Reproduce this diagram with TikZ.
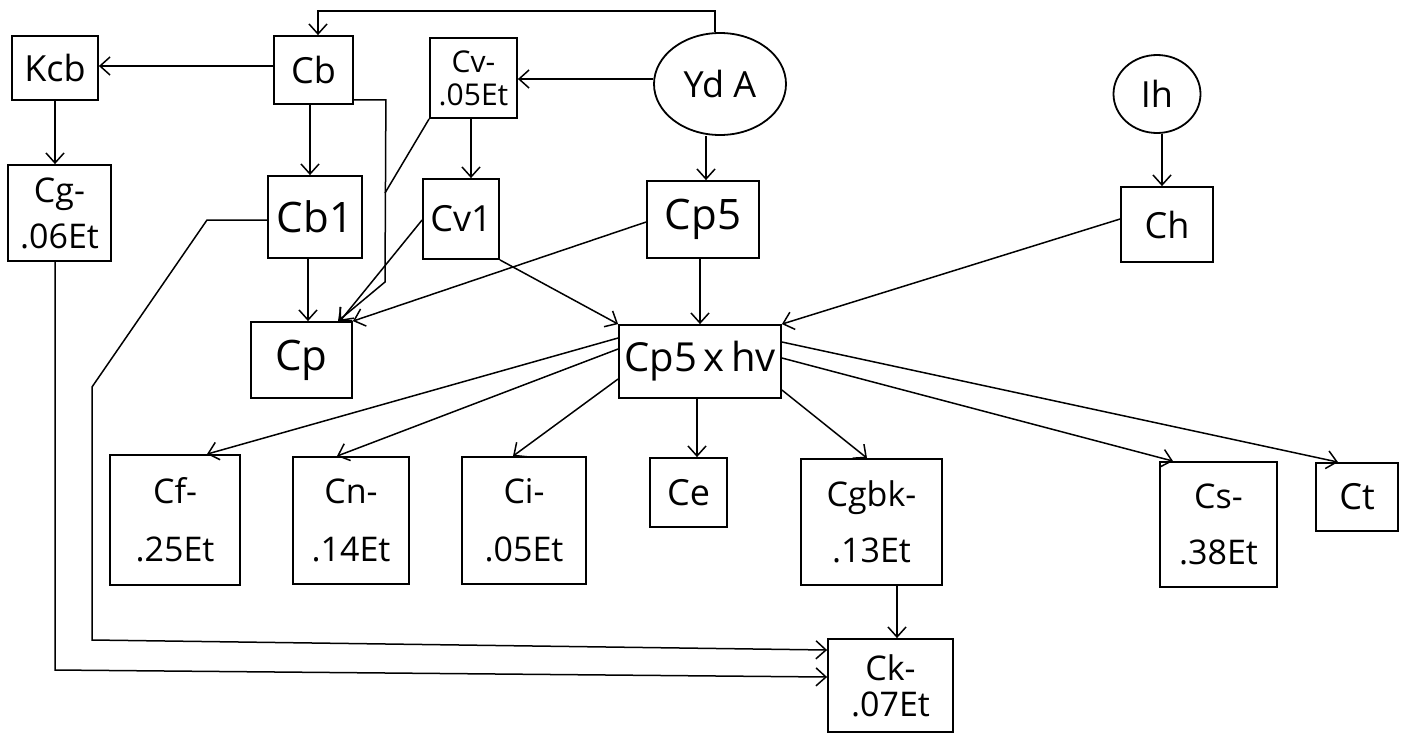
\documentclass[tikz,border=0pt]{standalone}
\usepackage{fontspec}
\setmainfont{Open Sans}
\usetikzlibrary{arrows.meta,shapes.geometric,calc}
\begin{document}
\begin{tikzpicture}[x=1pt,y=-1pt,
  box/.style={draw, line width=1.8pt, inner sep=0pt, font=\fontsize{36}{40}\selectfont},
  oval/.style={draw, ellipse, line width=1.8pt, inner sep=0pt, font=\fontsize{36}{40}\selectfont},
  two/.style={align=center, font=\fontsize{34}{#1}\selectfont},
  con/.style={line width=1.5pt},
  arr/.style={con, -{Straight Barb[length=10pt,width=18pt,line width=1.5pt]}},
]
\fill[white] (0,0) rectangle (1411,734);
\useasboundingbox (0,0) rectangle (1411,734);

% nodes
\node[box,minimum width=86pt,minimum height=64pt] (kcb) at (55,68) {Kcb};
\node[box,minimum width=79pt,minimum height=68pt] (cb) at (313.5,70) {Cb};
\node[box,two=32,font=\fontsize{30}{33}\selectfont,minimum width=87pt,minimum height=80pt] (cvm) at (473.5,78) {Cv-\\.05Et};
\node[oval,minimum width=132pt,minimum height=102pt] (yda) at (720,84) {Yd A};
\node[oval,minimum width=87pt,minimum height=78pt] (ih) at (1157,94) {Ih};
\node[box,minimum width=94pt,minimum height=82pt,font=\fontsize{42}{46}\selectfont] (cb1) at (315,217) {Cb1};
\node[box,minimum width=76pt,minimum height=80pt] (cv1) at (461,219) {Cv1};
\node[box,minimum width=112pt,minimum height=77pt,font=\fontsize{42}{46}\selectfont] (cp5) at (703,219.5) {Cp5};
\node[box,minimum width=92pt,minimum height=75pt] (ch) at (1167,224.5) {Ch};
\node[box,minimum width=101pt,minimum height=76pt,font=\fontsize{42}{46}\selectfont] (cp) at (301.5,360) {Cp};
\node[box,minimum width=162pt,minimum height=73pt,font=\fontsize{40}{44}\selectfont] (cpx) at (700,361.5) {Cp5\,x\,hv};
\node[box,two=46,minimum width=103pt,minimum height=96pt] (cg) at (59.5,213) {Cg-\\.06Et};
\node[box,two=58,minimum width=130pt,minimum height=130pt] (cf) at (175,520) {Cf-\\.25Et};
\node[box,two=58,minimum width=116pt,minimum height=127pt] (cn) at (351,520.5) {Cn-\\.14Et};
\node[box,two=58,minimum width=124pt,minimum height=127pt] (ci) at (524,520.5) {Ci-\\.05Et};
\node[box,minimum width=77pt,minimum height=69pt] (ce) at (688.5,492.5) {Ce};
\node[box,two=56,minimum width=141pt,minimum height=126pt] (cgbk) at (871.5,522) {Cgbk-\\.13Et};
\node[box,two=56,minimum width=117pt,minimum height=125pt] (cs) at (1218.5,524.5) {Cs-\\.38Et};
\node[box,minimum width=82pt,minimum height=68pt] (ct) at (1357,497) {Ct};
\node[box,two=36,minimum width=125pt,minimum height=93pt] (ck) at (890.5,685.5) {Ck-\\.07Et};

% connectors
\draw[arr] ([xshift=-5pt]yda.north) -- ++(0,-21) -| ([xshift=4.5pt]cb.north);
\draw[arr] ([yshift=4pt]cb.west) -- ([yshift=4pt]cb.west -| kcb.east);
\draw[arr] (kcb.south) -- (kcb.south |- cg.north);
\draw[arr] ([xshift=-3.5pt]cb.south) -- ([xshift=-3.5pt]cb.south |- cb1.north);
\coordinate (m1) at (385,193);
\draw[con] (cvm.south west) -- (m1);
\draw[arr] ([yshift=5pt]cb.south east) -- ++(32,0) -- (385,282) -- ([xshift=36.5pt]cp.north);
\draw[arr] ([xshift=-2.5pt]cvm.south) -- ([xshift=-2.5pt]cvm.south |- cv1.north);
\draw[arr] ([yshift=5pt]yda.west) -- ([yshift=5pt]yda.west -| cvm.east);
\draw[arr] ([xshift=-14pt]yda.south) -- ([xshift=-14pt]yda.south |- cp5.north);
\draw[arr] ([xshift=-7pt]cb1.south) -- ([xshift=-7pt]cb1.south |- cp.north);
\draw[arr] ([yshift=-1pt]cv1.west) -- ([xshift=38.5pt]cp.north);
\draw[arr] ([yshift=-2.5pt]cp5.west) -- (cp.north east);
\draw[arr] (cv1.south east) -- (cpx.north west);
\draw[arr] ([xshift=-3pt]cp5.south) -- ([xshift=-3pt]cp5.south |- cpx.north);
\draw[arr] ([yshift=5.5pt]ch.west) -- (cpx.north east);
\draw[arr] ([xshift=5pt]ih.south) -- ([xshift=5pt]ih.south |- ch.north);
\draw[arr] ([yshift=23.5pt]cpx.west) -- ([xshift=32pt]cf.north);
\draw[arr] ([yshift=12.5pt]cpx.west) -- ([xshift=-14pt]cn.north);
\draw[arr] ([yshift=-17.5pt]cpx.west) -- ([xshift=-11pt]ci.north);
\draw[arr] ([xshift=-3pt]cpx.south) -- ([xshift=-3pt]cpx.south |- ce.north);
\draw[arr] ([yshift=-28.5pt]cpx.east) -- ([xshift=-4.5pt]cgbk.north);
\draw[arr] ([yshift=3.5pt]cpx.east) -- ([xshift=-45.5pt]cs.north);
\draw[arr] ([yshift=19.5pt]cpx.east) -- ([xshift=-19pt]ct.north);
\draw[arr] ([xshift=25.5pt]cgbk.south) -- ([xshift=25.5pt]cgbk.south |- ck.north);
\draw[arr] ([yshift=-3pt]cb1.west) -- (207,220) -- (92,387) -- (92,640) -- ([yshift=35.5pt]ck.west);
\draw[arr] ([xshift=-4.5pt]cg.south) -- (55,670) -- ([yshift=8.5pt]ck.west);
\end{tikzpicture}
\end{document}
